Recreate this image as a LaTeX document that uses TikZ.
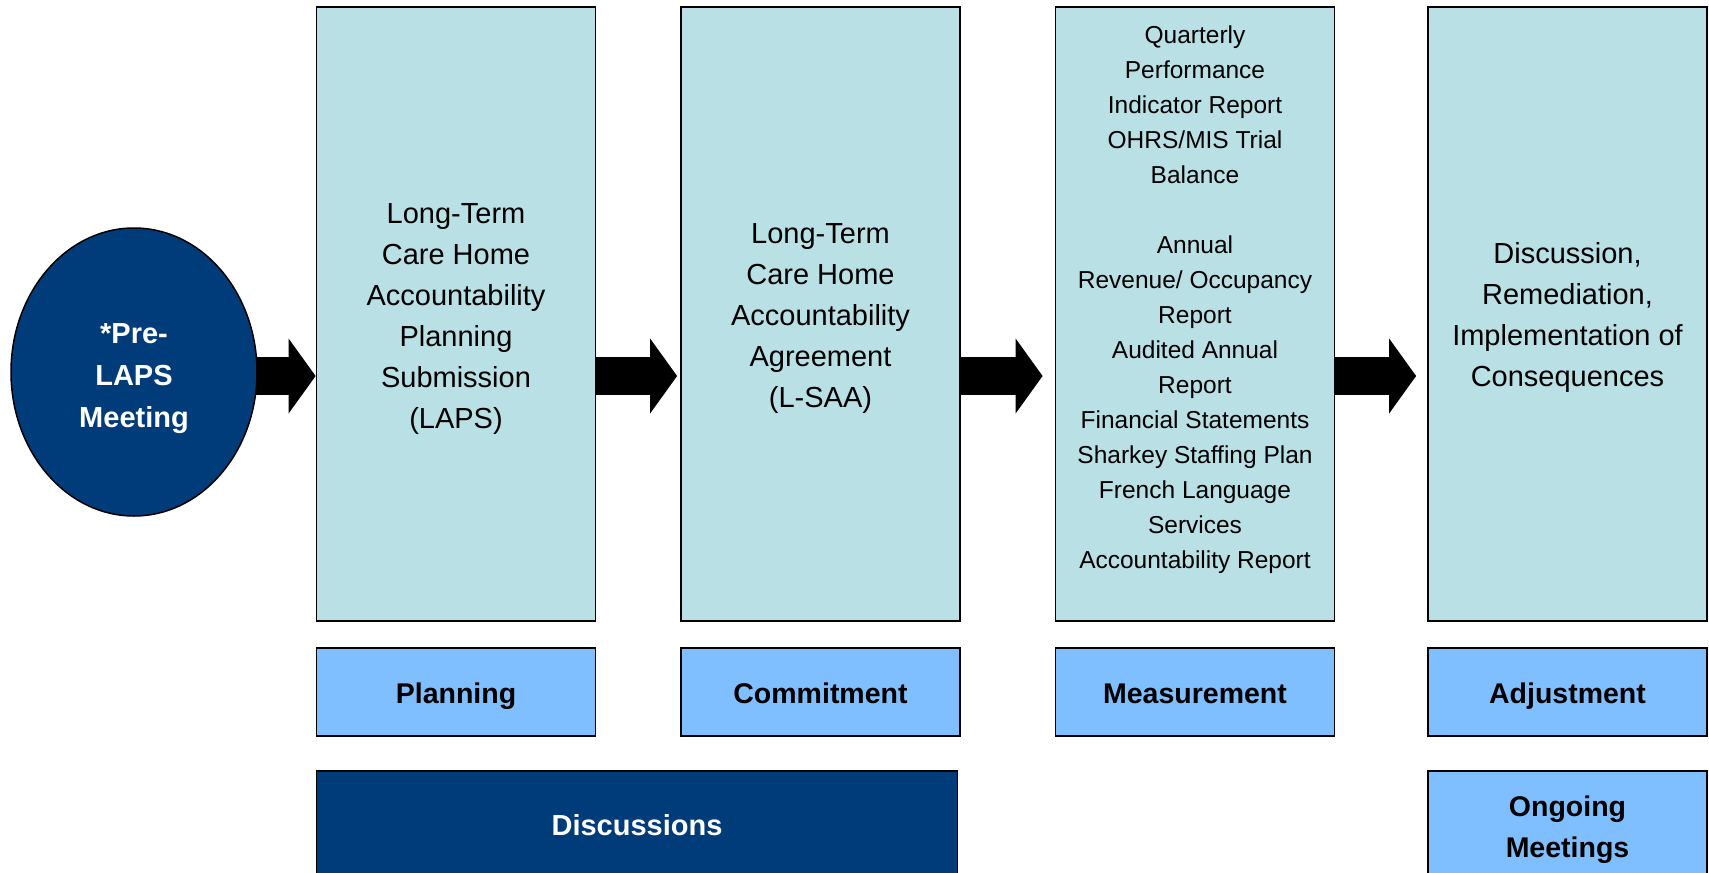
\documentclass[tikz,border=0pt]{standalone}
\usepackage{fontspec}
\setmainfont{Liberation Sans}
\usetikzlibrary{positioning,shapes.geometric,arrows.meta,backgrounds}

\definecolor{stageteal}{RGB}{185,224,228}
\definecolor{tagblue}{RGB}{128,191,255}
\definecolor{navy}{RGB}{0,60,122}
\newcommand{\topstrut}{\rule{0pt}{29pt}}

\begin{document}
\begin{tikzpicture}[
        x=1pt, y=-1pt,
        stage/.style={rectangle, draw=black, line width=1.8pt, fill=stageteal, align=center, minimum width=279pt, minimum height=614pt, inner sep=0pt, font=\fontsize{29}{41}\selectfont},
        tag/.style={rectangle, draw=black, line width=1.8pt, fill=tagblue, align=center, minimum width=279pt, minimum height=88pt, inner sep=0pt, font=\fontsize{28.5}{41}\selectfont\bfseries, text height=29pt, text depth=6pt},
        navybox/.style={rectangle, draw=black, line width=1.8pt, fill=navy, text=white, align=center, minimum height=109pt, inner sep=0pt, font=\fontsize{29}{41}\selectfont\bfseries},
        bigarrow/.style={line width=38pt, -{Triangle[width=75pt, length=27pt, line width=0pt]}}
    ]
        \useasboundingbox (0,0) rectangle (1709,873);
        \clip (0,0) rectangle (1709,873);

        \node (pre) [ellipse, draw=black, line width=1.5pt, fill=navy, text=white, align=center, minimum width=246pt, minimum height=288pt, inner sep=0pt, font=\fontsize{29}{42}\selectfont\bfseries] at (134,372) {\rule{0pt}{33pt}*Pre-\\LAPS\\Meeting};

        \node (plan) [stage] at (456,314) {\topstrut Long-Term\\Care Home\\Accountability\\Planning\\Submission\\(LAPS)};
        \node (commit) [stage] at (820.5,314) {\topstrut Long-Term\\Care Home\\Accountability\\Agreement\\(L-SAA)};
        \node (meas) [stage] at (1195,314) {};
        \node (measlist) [align=center, inner sep=0pt, font=\fontsize{24.5}{35}\selectfont] at ([yshift=14pt]meas.center) {Quarterly\\Performance\\Indicator Report\\OHRS/MIS Trial\\Balance\\[35pt]Annual\\Revenue/ Occupancy\\Report\\Audited Annual\\Report\\Financial Statements\\Sharkey Staffing Plan\\French Language\\Services\\Accountability Report};
        \node (adjust) [stage] at (1567.5,314) {\topstrut Discussion,\\Remediation,\\Implementation of\\Consequences};

        \node (plantag) [tag, below=25pt of plan] {Planning};
        \node (committag) [tag, below=25pt of commit] {Commitment};
        \node (meastag) [tag, below=25pt of meas] {Measurement};
        \node (adjusttag) [tag, below=25pt of adjust] {Adjustment};

        \node (disc) [navybox, minimum width=641pt, anchor=north west] at ([yshift=-33pt]plantag.south west) {Discussions};
        \node (ongoing) [tag, text height=, text depth=, minimum height=109pt, below=33pt of adjusttag] {\topstrut Ongoing\\Meetings};

        \coordinate (flow) at (0,376);
        \begin{scope}[on background layer]
            \draw[bigarrow] (pre.center |- flow) -- (plan.west |- flow);
            \draw[bigarrow, shorten >=3pt] (plan.east |- flow) -- (commit.west |- flow);
            \draw[bigarrow, shorten >=12pt] (commit.east |- flow) -- (meas.west |- flow);
            \draw[bigarrow, shorten >=11pt] (meas.east |- flow) -- (adjust.west |- flow);
        \end{scope}
    \end{tikzpicture}
\end{document}
